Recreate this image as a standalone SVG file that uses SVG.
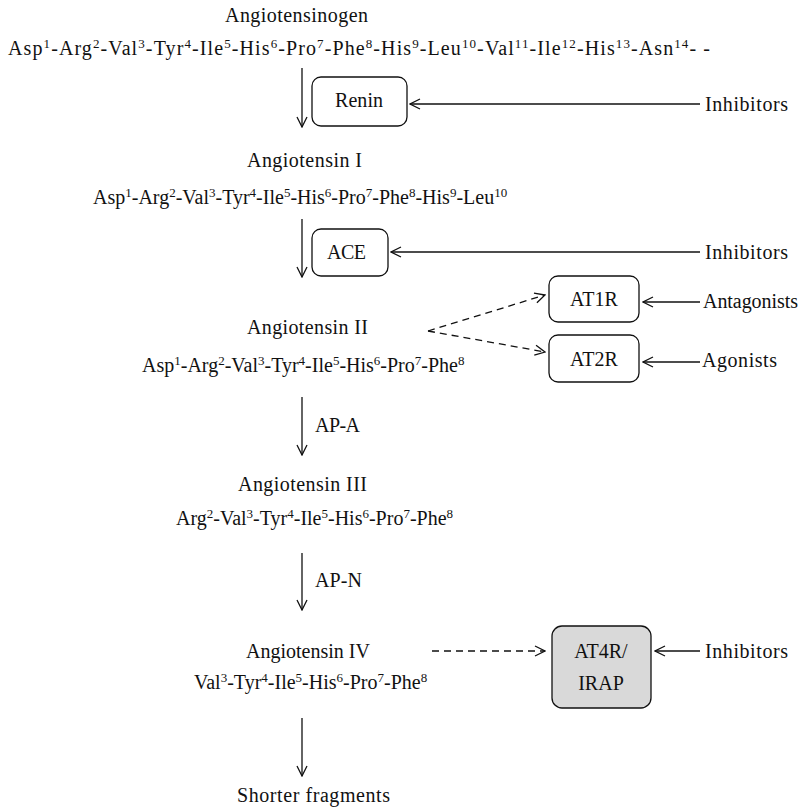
<svg xmlns="http://www.w3.org/2000/svg" width="807" height="809" viewBox="0 0 807 809">
<style>
text{font-family:"Liberation Serif","Times New Roman",serif;font-size:20px;fill:#111}
.m{text-anchor:middle}
.s{font-size:13px}
.ln{stroke:#111;stroke-width:1.3;fill:none}
.d{stroke-dasharray:7,5}
.box{fill:#fff;stroke:#111;stroke-width:1.3}
.gbox{fill:#d9d9d9;stroke:#111;stroke-width:1.3}
</style>
<defs>
<marker id="ah" viewBox="0 0 12 12" refX="11" refY="6" markerWidth="12" markerHeight="12" markerUnits="userSpaceOnUse" orient="auto">
<polyline points="1,1 11,6 1,11" fill="none" stroke="#111" stroke-width="1.3"/>
</marker>
</defs>
<rect width="807" height="809" fill="#fff"/>
<g id="angiotensinogen">
<text x="225" y="22" textLength="143" lengthAdjust="spacing">Angiotensinogen</text>
<text x="8" y="55" textLength="702" lengthAdjust="spacing">Asp<tspan class="s" dy="-7">1</tspan><tspan dy="7">-Arg</tspan><tspan class="s" dy="-7">2</tspan><tspan dy="7">-Val</tspan><tspan class="s" dy="-7">3</tspan><tspan dy="7">-Tyr</tspan><tspan class="s" dy="-7">4</tspan><tspan dy="7">-Ile</tspan><tspan class="s" dy="-7">5</tspan><tspan dy="7">-His</tspan><tspan class="s" dy="-7">6</tspan><tspan dy="7">-Pro</tspan><tspan class="s" dy="-7">7</tspan><tspan dy="7">-Phe</tspan><tspan class="s" dy="-7">8</tspan><tspan dy="7">-His</tspan><tspan class="s" dy="-7">9</tspan><tspan dy="7">-Leu</tspan><tspan class="s" dy="-7">10</tspan><tspan dy="7">-Val</tspan><tspan class="s" dy="-7">11</tspan><tspan dy="7">-Ile</tspan><tspan class="s" dy="-7">12</tspan><tspan dy="7">-His</tspan><tspan class="s" dy="-7">13</tspan><tspan dy="7">-Asn</tspan><tspan class="s" dy="-7">14</tspan><tspan dy="7">- -</tspan></text>
</g>
<g id="renin">
<rect class="box" x="312" y="77" width="95" height="49" rx="9"/>
<text x="335" y="107" textLength="48" lengthAdjust="spacing">Renin</text>
</g>
<g id="inhibitors1"><text x="705" y="111" textLength="83" lengthAdjust="spacing">Inhibitors</text></g>
<g id="angiotensin1">
<text x="247" y="167" textLength="115" lengthAdjust="spacing">Angiotensin I</text>
<text x="93" y="204">Asp<tspan class="s" dy="-7">1</tspan><tspan dy="7">-Arg</tspan><tspan class="s" dy="-7">2</tspan><tspan dy="7">-Val</tspan><tspan class="s" dy="-7">3</tspan><tspan dy="7">-Tyr</tspan><tspan class="s" dy="-7">4</tspan><tspan dy="7">-Ile</tspan><tspan class="s" dy="-7">5</tspan><tspan dy="7">-His</tspan><tspan class="s" dy="-7">6</tspan><tspan dy="7">-Pro</tspan><tspan class="s" dy="-7">7</tspan><tspan dy="7">-Phe</tspan><tspan class="s" dy="-7">8</tspan><tspan dy="7">-His</tspan><tspan class="s" dy="-7">9</tspan><tspan dy="7">-Leu</tspan><tspan class="s" dy="-7">10</tspan></text>
</g>
<g id="ace">
<rect class="box" x="312" y="229" width="76" height="47" rx="9"/>
<text x="327" y="259" textLength="39" lengthAdjust="spacing">ACE</text>
</g>
<g id="inhibitors2"><text x="705" y="259" textLength="83" lengthAdjust="spacing">Inhibitors</text></g>
<g id="angiotensin2">
<text x="247" y="334" textLength="121" lengthAdjust="spacing">Angiotensin II</text>
<text x="142" y="372">Asp<tspan class="s" dy="-7">1</tspan><tspan dy="7">-Arg</tspan><tspan class="s" dy="-7">2</tspan><tspan dy="7">-Val</tspan><tspan class="s" dy="-7">3</tspan><tspan dy="7">-Tyr</tspan><tspan class="s" dy="-7">4</tspan><tspan dy="7">-Ile</tspan><tspan class="s" dy="-7">5</tspan><tspan dy="7">-His</tspan><tspan class="s" dy="-7">6</tspan><tspan dy="7">-Pro</tspan><tspan class="s" dy="-7">7</tspan><tspan dy="7">-Phe</tspan><tspan class="s" dy="-7">8</tspan></text>
</g>
<g id="at1r">
<rect class="box" x="549" y="276" width="90" height="46" rx="9"/>
<text class="m" x="594" y="306">AT1R</text>
</g>
<g id="antagonists"><text x="703" y="308" textLength="95" lengthAdjust="spacing">Antagonists</text></g>
<g id="at2r">
<rect class="box" x="549" y="335" width="90" height="47" rx="9"/>
<text class="m" x="594" y="366">AT2R</text>
</g>
<g id="agonists"><text x="702" y="367" textLength="75" lengthAdjust="spacing">Agonists</text></g>
<g id="ap-a"><text x="315" y="432" textLength="45" lengthAdjust="spacing">AP-A</text></g>
<g id="angiotensin3">
<text x="238" y="491" textLength="129" lengthAdjust="spacing">Angiotensin III</text>
<text x="176" y="525">Arg<tspan class="s" dy="-7">2</tspan><tspan dy="7">-Val</tspan><tspan class="s" dy="-7">3</tspan><tspan dy="7">-Tyr</tspan><tspan class="s" dy="-7">4</tspan><tspan dy="7">-Ile</tspan><tspan class="s" dy="-7">5</tspan><tspan dy="7">-His</tspan><tspan class="s" dy="-7">6</tspan><tspan dy="7">-Pro</tspan><tspan class="s" dy="-7">7</tspan><tspan dy="7">-Phe</tspan><tspan class="s" dy="-7">8</tspan></text>
</g>
<g id="ap-n"><text x="315" y="587" textLength="47" lengthAdjust="spacing">AP-N</text></g>
<g id="angiotensin4">
<text x="246" y="658" textLength="124" lengthAdjust="spacing">Angiotensin IV</text>
<text x="194" y="689">Val<tspan class="s" dy="-7">3</tspan><tspan dy="7">-Tyr</tspan><tspan class="s" dy="-7">4</tspan><tspan dy="7">-Ile</tspan><tspan class="s" dy="-7">5</tspan><tspan dy="7">-His</tspan><tspan class="s" dy="-7">6</tspan><tspan dy="7">-Pro</tspan><tspan class="s" dy="-7">7</tspan><tspan dy="7">-Phe</tspan><tspan class="s" dy="-7">8</tspan></text>
</g>
<g id="at4r">
<rect class="gbox" x="552" y="626" width="99" height="82" rx="10"/>
<text class="m" x="601" y="658">AT4R/</text>
<text class="m" x="601" y="690">IRAP</text>
</g>
<g id="inhibitors3"><text x="705" y="658" textLength="83" lengthAdjust="spacing">Inhibitors</text></g>
<g id="shorter"><text x="237" y="802" textLength="153" lengthAdjust="spacing">Shorter fragments</text></g>
<g id="connectors">
<line class="ln" x1="302" y1="68" x2="302" y2="127" marker-end="url(#ah)"/>
<line class="ln" x1="700" y1="104" x2="410" y2="104" marker-end="url(#ah)"/>
<line class="ln" x1="302" y1="219" x2="302" y2="277" marker-end="url(#ah)"/>
<line class="ln" x1="700" y1="252" x2="391" y2="252" marker-end="url(#ah)"/>
<line class="ln d" x1="428" y1="331" x2="545" y2="295" marker-end="url(#ah)"/>
<line class="ln d" x1="428" y1="331" x2="545" y2="352" marker-end="url(#ah)"/>
<line class="ln" x1="700" y1="302" x2="643" y2="302" marker-end="url(#ah)"/>
<line class="ln" x1="700" y1="362" x2="643" y2="362" marker-end="url(#ah)"/>
<line class="ln" x1="302" y1="397" x2="302" y2="455" marker-end="url(#ah)"/>
<line class="ln" x1="302" y1="553" x2="302" y2="610" marker-end="url(#ah)"/>
<line class="ln" x1="302" y1="718" x2="302" y2="776" marker-end="url(#ah)"/>
<line class="ln d" x1="432" y1="651" x2="545" y2="651" marker-end="url(#ah)"/>
<line class="ln" x1="700" y1="651" x2="655" y2="651" marker-end="url(#ah)"/>
</g>
</svg>
